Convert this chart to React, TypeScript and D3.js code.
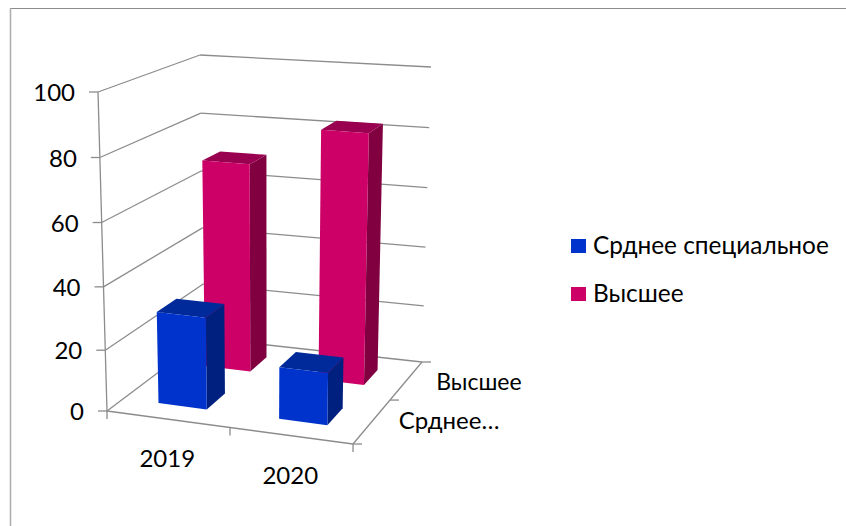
import React from 'react';
import * as d3 from 'd3';

const years = ['2019', '2020'];
const seriesNames = ['Срднее специальное', 'Высшее'];
const depthLabels = ['Срднее…', 'Высшее'];
const srednee = [30, 17];
const vysshee = [70, 83];
const ticks = [0, 20, 40, 60, 80, 100];

const seriesColors = [
    { front: '#0033CC', top: '#002A99', side: '#002080' },
    { front: '#CC0066', top: '#990050', side: '#800040' }
];

const width = 846;
const height = 526;
const axisColor = '#8C8C8C';
const fontFamily = "Lato, 'Noto Sans', sans-serif";

// corners of the 3d box as they land on the picture
const floorFL: [number, number] = [107, 411];
const floorFR: [number, number] = [353, 444];
const floorBL: [number, number] = [204, 338];
const floorBR: [number, number] = [422, 362];
const topFL: [number, number] = [98, 92];
const topFR: [number, number] = [359, 113];
const topBL: [number, number] = [200, 55];
const topBR: [number, number] = [431, 67];

const valueScale = d3.scalePow().exponent(1.03).domain([0, 100]).range([0, 1]);
const depthScale = d3.scalePow().exponent(0.9).domain([0, 1]).range([0, 1]);
const xBand = d3.scaleBand<string>().domain(years).range([-0.005, 0.995]).paddingInner(0.6).paddingOuter(0.3);
const zBand = d3.scaleBand<string>().domain(seriesNames).range([-0.01, 0.99]).paddingInner(0.6).paddingOuter(0.3);

const mix = (a: [number, number], b: [number, number], t: number): [number, number] => [
    d3.interpolateNumber(a[0], b[0])(t),
    d3.interpolateNumber(a[1], b[1])(t)
];

// u along the categories, v is the value, w into the depth
const project = (u: number, v: number, w: number): [number, number] => {
    const t = valueScale(v);
    const d = depthScale(w);
    const bottom = mix(mix(floorFL, floorFR, u), mix(floorBL, floorBR, u), d);
    const top = mix(mix(topFL, topFR, u), mix(topBL, topBR, u), d);
    return mix(bottom, top, t);
};

const line = d3.line();

const Face = ({ points, fill }: { points: [number, number][]; fill: string }) => (
    <path d={line(points) + 'Z'} fill={fill} />
);

const Seg = ({ a, b, w = 1.3 }: { a: [number, number]; b: [number, number]; w?: number }) => (
    <line x1={a[0]} y1={a[1]} x2={b[0]} y2={b[1]} stroke={axisColor} strokeWidth={w} />
);

const Bar = ({ year, s, value }: { year: string; s: number; value: number }) => {
    const u0 = xBand(year) as number;
    const u1 = u0 + xBand.bandwidth();
    const w0 = zBand(seriesNames[s]) as number;
    const w1 = w0 + zBand.bandwidth();
    const c = seriesColors[s];
    return (
        <g>
            <Face fill={c.side} points={[project(u1, 0, w0), project(u1, 0, w1), project(u1, value, w1), project(u1, value, w0)]} />
            <Face fill={c.top} points={[project(u0, value, w0), project(u1, value, w0), project(u1, value, w1), project(u0, value, w1)]} />
            <Face fill={c.front} points={[project(u0, 0, w0), project(u1, 0, w0), project(u1, value, w0), project(u0, value, w0)]} />
        </g>
    );
};

export default function App() {
    return (
        <svg width={width} height={height} style={{ position: 'fixed', left: 0, top: 0, background: '#fff' }} fontFamily={fontFamily}>
            {/* chart area frame, only top and left show */}
            <line x1={10} y1={8.5} x2={width} y2={8.5} stroke={axisColor} strokeWidth={1} />
            <line x1={10.5} y1={8} x2={10.5} y2={height} stroke="#ABABAB" strokeWidth={1.5} />

            {/* walls */}
            {ticks.map(t => (
                <g key={t}>
                    <Seg a={project(0, t, 0)} b={project(0, t, 1)} />
                    <Seg a={project(0, t, 1)} b={project(1, t, 1)} />
                    <line
                        x1={project(0, t, 0)[0] - 9}
                        y1={project(0, t, 0)[1]}
                        x2={project(0, t, 0)[0]}
                        y2={project(0, t, 0)[1]}
                        stroke={axisColor}
                        strokeWidth={1.3}
                    />
                    <text x={project(0, t, 0)[0] - 23} y={project(0, t, 0)[1] + 9} fontSize={24} textAnchor="end" fill="#000">
                        {t}
                    </text>
                </g>
            ))}
            <Seg a={project(0, 0, 0)} b={project(0, 100, 0)} />

            {/* floor */}
            <Seg a={project(0, 0, 0)} b={project(1, 0, 0)} />
            <Seg a={project(1, 0, 0)} b={project(1, 0, 1)} />
            {[0, 0.5, 1].map(u => {
                const p = project(u, 0, 0);
                return <Seg key={u} a={p} b={[p[0], p[1] + 8]} />;
            })}
            {[0, 0.5, 1].map(w => {
                const p = project(1, 0, w);
                return <Seg key={w} a={p} b={[p[0] + 9, p[1]]} />;
            })}

            {/* bars, far series first */}
            {years.map((y, i) => <Bar key={y} year={y} s={1} value={vysshee[i]} />)}
            {years.map((y, i) => <Bar key={y} year={y} s={0} value={srednee[i]} />)}

            {/* category labels */}
            {years.map(y => {
                const p = project((xBand(y) as number) + xBand.bandwidth() / 2, 0, 0);
                return (
                    <text key={y} x={p[0]} y={p[1] + 48} fontSize={24} textAnchor="middle" fill="#000">
                        {y}
                    </text>
                );
            })}
            {depthLabels.map((d, i) => {
                const p = project(1, 0, i === 0 ? 0.25 : 0.75);
                const off = i === 0 ? 26 : 30;
                return (
                    <text key={d} x={p[0] + off} y={p[1] + 9} fontSize={i === 0 ? 24 : 23} fill="#000">
                        {d}
                    </text>
                );
            })}

            {/* legend */}
            {seriesNames.map((name, i) => (
                <g key={name} transform={`translate(571, ${239 + i * 48})`}>
                    <rect width={15} height={14} fill={seriesColors[i].front} />
                    <text x={22} y={15} fontSize={24.4} fill="#000">
                        {name}
                    </text>
                </g>
            ))}
        </svg>
    );
}
